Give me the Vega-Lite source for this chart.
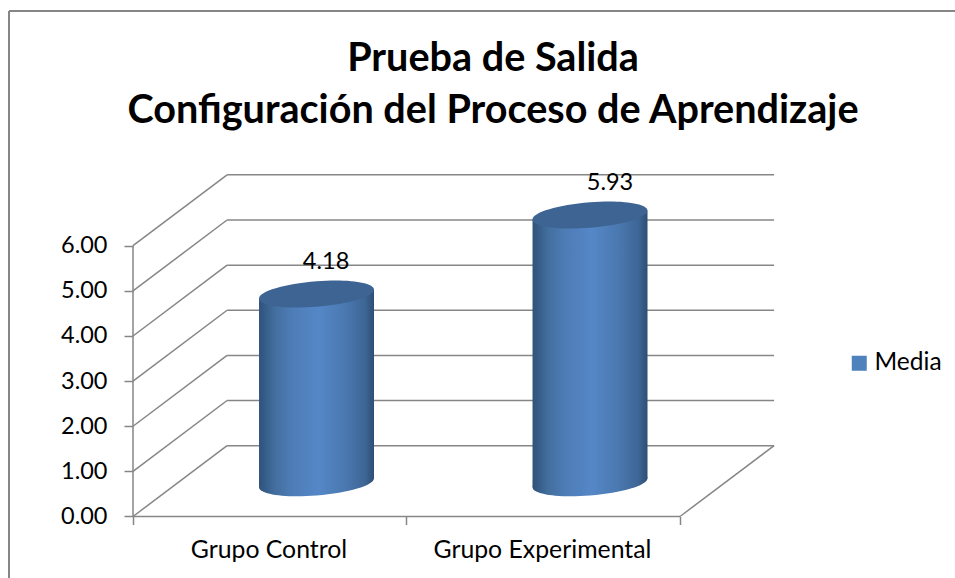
{
"$schema":"https://vega.github.io/schema/vega-lite/v6.json",
"width":955,"height":578,"padding":0,"autosize":{"type":"none"},
"background":"white",
"view":{"stroke":null},
"config":{"font":"Lato","text":{"font":"Lato"},"style":{"guide-label":{"font":"Lato"}}},
"title":{"text":["Prueba de Salida","Configuración del Proceso de Aprendizaje"],"font":"Lato","fontSize":39.6,"fontWeight":"bold","color":"#000000","lineHeight":52,"anchor":"middle","dx":15.5,"offset":-132,"orient":"top"},
"datasets":{
"one":[{"k":1}],
"grid":[{"v":0},{"v":1},{"v":2},{"v":3},{"v":4},{"v":5},{"v":6}],
"cyl":[{"idx":0,"grupo":"Grupo Control","media":4.18,"serie":"Media"},{"idx":1,"grupo":"Grupo Experimental","media":5.93,"serie":"Media"}]
},
"layer":[
{"data":{"name":"one"},"mark":{"type":"rule","color":"#868686","strokeWidth":2},
 "encoding":{"x":{"datum":-0.4534,"type":"quantitative","scale":{"domain":[-0.4863,3.0055],"nice":false,"zero":false},"axis":{"values":[0,1,2],"labels":false,"title":null,"domain":false,"grid":false,"offset":-61.5,"tickColor":"#868686","tickSize":8,"tickWidth":1.5}},
 "x2":{"datum":3.0055},
 "y":{"datum":11.2,"type":"quantitative","scale":{"domain":[-1.363,11.445],"nice":false,"zero":false},"axis":{"values":[0,1,2,3,4,5,6],"format":".2f","title":null,"domain":false,"grid":false,"offset":-133,"tickColor":"#868686","tickSize":9,"tickWidth":1.5,"labelFont":"Lato","labelFontSize":23.5,"labelColor":"#000000","labelPadding":17}}}},
{"data":{"name":"one"},"mark":{"type":"rule","color":"#868686","strokeWidth":2},
 "encoding":{"x":{"datum":-0.4534,"type":"quantitative"},"y":{"datum":11.2,"type":"quantitative"},"y2":{"datum":-1.363}}},
{"data":{"name":"grid"},"transform":[{"calculate":"datum.v+1.57","as":"vb"},{"calculate":"0.344","as":"x0"},{"calculate":"0","as":"xf"}],
 "mark":{"type":"rule","color":"#868686","strokeWidth":1.5},
 "encoding":{"x":{"field":"xf","type":"quantitative"},"x2":{"field":"x0"},"y":{"field":"v","type":"quantitative"},"y2":{"field":"vb"}}},
{"data":{"name":"grid"},"transform":[{"calculate":"datum.v+1.57","as":"vb"},{"calculate":"0.344","as":"x0"},{"calculate":"2.344","as":"x1"}],
 "mark":{"type":"rule","color":"#868686","strokeWidth":1.5},
 "encoding":{"x":{"field":"x0","type":"quantitative"},"x2":{"field":"x1"},"y":{"field":"vb","type":"quantitative"}}},
{"data":{"name":"one"},"mark":{"type":"rule","color":"#868686","strokeWidth":1.5},
 "encoding":{"x":{"datum":0,"type":"quantitative"},"y":{"datum":0,"type":"quantitative"},"y2":{"datum":6}}},
{"data":{"name":"one"},"mark":{"type":"rule","color":"#868686","strokeWidth":1.5},
 "encoding":{"x":{"datum":0,"type":"quantitative"},"x2":{"datum":2},"y":{"datum":0,"type":"quantitative"}}},
{"data":{"name":"one"},"mark":{"type":"rule","color":"#868686","strokeWidth":1.5},
 "encoding":{"x":{"datum":2,"type":"quantitative"},"x2":{"datum":2.344},"y":{"datum":0,"type":"quantitative"},"y2":{"datum":1.57}}},
{"data":{"name":"cyl"},"transform":[{"calculate":"datum.idx+0.671","as":"cx"},{"calculate":"0.75","as":"base"}],
 "mark":{"type":"point","shape":"square","filled":true,"size":4,"opacity":1},
 "encoding":{"x":{"field":"cx","type":"quantitative"},"y":{"field":"base","type":"quantitative"},
 "color":{"field":"serie","type":"nominal","scale":{"domain":["Media"],"range":["#4F81BD"]},"legend":{"title":null,"orient":"none","legendX":847,"legendY":351,"symbolType":"square","symbolSize":225,"symbolStrokeWidth":0,"labelFont":"Lato","labelFontSize":24.5,"labelColor":"#000000","labelOffset":3}}}},
{"data":{"name":"cyl"},"transform":[{"calculate":"datum.idx+0.671","as":"cx"},{"calculate":"0.75","as":"base"}],
 "mark":{"type":"point","filled":true,"opacity":1,"size":13225,"strokeWidth":0,"shape":"M1,-0.078C1,0.0446,0.5523,0.1789,0,0.222C-0.5523,0.2651,-1,0.2006,-1,0.078C-1,-0.0446,-0.5523,-0.1789,0,-0.222C0.5523,-0.2651,1,-0.2006,1,-0.078Z",
 "color":{"gradient":"linear","x1":0,"x2":1,"y1":0,"y2":0,"stops":[{"offset":0,"color":"#2F527A"},{"offset":0.14,"color":"#436F9F"},{"offset":0.3,"color":"#4E7DB8"},{"offset":0.52,"color":"#5587C7"},{"offset":0.75,"color":"#4A78AF"},{"offset":0.92,"color":"#3E6696"},{"offset":1,"color":"#2E4E74"}]}},
 "encoding":{"x":{"field":"cx","type":"quantitative"},"y":{"field":"base","type":"quantitative"}}},
{"data":{"name":"cyl"},"transform":[{"calculate":"[-1,1]","as":"side"},{"flatten":["side"]},{"calculate":"datum.idx+0.671+datum.side*0.2102","as":"xp"},{"calculate":"0.75+datum.media+datum.side*0.0975","as":"ytop"},{"calculate":"0.75+datum.side*0.0975","as":"ybot"}],
 "mark":{"type":"area","opacity":1,"strokeWidth":0,
 "color":{"gradient":"linear","x1":0,"x2":1,"y1":0,"y2":0,"stops":[{"offset":0,"color":"#2F527A"},{"offset":0.14,"color":"#436F9F"},{"offset":0.3,"color":"#4E7DB8"},{"offset":0.52,"color":"#5587C7"},{"offset":0.75,"color":"#4A78AF"},{"offset":0.92,"color":"#3E6696"},{"offset":1,"color":"#2E4E74"}]}},
 "encoding":{"x":{"field":"xp","type":"quantitative"},"y":{"field":"ytop","type":"quantitative"},"y2":{"field":"ybot"},"detail":{"field":"grupo"}}},
{"data":{"name":"cyl"},"transform":[{"calculate":"datum.idx+0.671","as":"cx"},{"calculate":"0.75+datum.media","as":"top"}],
 "mark":{"type":"point","filled":true,"opacity":1,"size":13225,"strokeWidth":0,"color":"#3E6493","shape":"M1,-0.078C1,0.0446,0.5523,0.1789,0,0.222C-0.5523,0.2651,-1,0.2006,-1,0.078C-1,-0.0446,-0.5523,-0.1789,0,-0.222C0.5523,-0.2651,1,-0.2006,1,-0.078Z"},
 "encoding":{"x":{"field":"cx","type":"quantitative"},"y":{"field":"top","type":"quantitative"}}},
{"data":{"name":"cyl"},"transform":[{"calculate":"datum.idx+0.671+0.035+datum.idx*0.038","as":"lx"},{"calculate":"0.75+datum.media+0.72","as":"ly"}],
 "mark":{"type":"text","font":"Lato","fontSize":23.5,"color":"#000000","align":"center","baseline":"middle"},
 "encoding":{"x":{"field":"lx","type":"quantitative"},"y":{"field":"ly","type":"quantitative"},"text":{"field":"media","type":"quantitative","format":".2f"}}},
{"data":{"name":"cyl"},"transform":[{"calculate":"datum.idx+0.497","as":"lx"},{"calculate":"-0.76","as":"ly"}],
 "mark":{"type":"text","font":"Lato","fontSize":24.8,"color":"#000000","align":"center","baseline":"middle"},
 "encoding":{"x":{"field":"lx","type":"quantitative"},"y":{"field":"ly","type":"quantitative"},"text":{"field":"grupo","type":"nominal"}}}
]
}
